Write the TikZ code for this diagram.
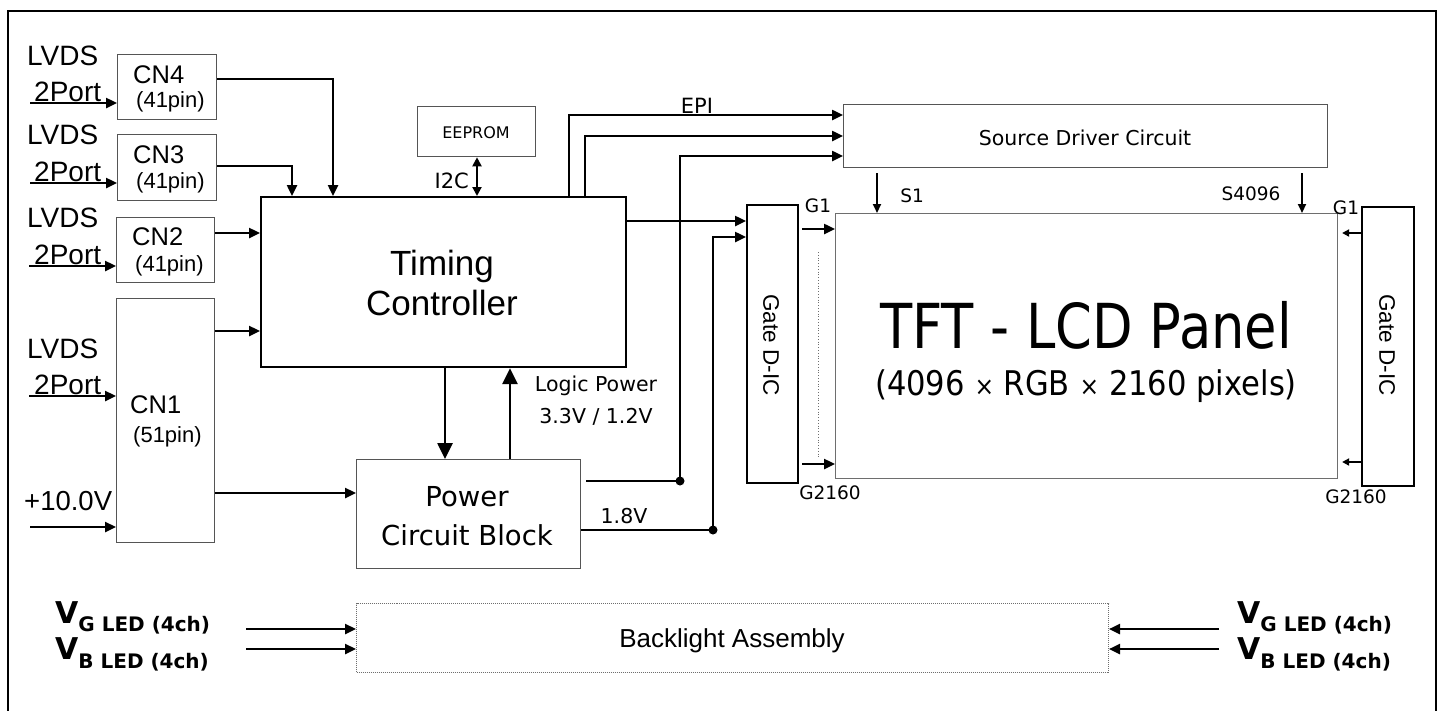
\documentclass[tikz,border=0pt]{standalone}
\usepackage{fontspec}
\setmainfont{Liberation Sans}
\newfontfamily\verd{DejaVu Sans}
\newfontfamily\verdc[FakeStretch=0.85]{DejaVu Sans}
\newfontfamily\verdd[FakeStretch=0.9]{DejaVu Sans}
\usetikzlibrary{arrows.meta,calc}
\newcommand\fsz[1]{\fontsize{#1}{#1}\selectfont}
\definecolor{bgray}{RGB}{85,85,85}
\definecolor{lgray}{RGB}{110,110,110}
\begin{document}
\begin{tikzpicture}[x=1pt,y=-1pt,
  box/.style={draw=bgray, line width=1.3pt, inner sep=0pt, anchor=north west},
  bbox/.style={draw=black, line width=2.2pt, inner sep=0pt, anchor=north west},
  txt/.style={inner sep=0pt},
  conn/.style={line width=2.4pt, -{Triangle[length=11pt,width=10pt]}},
  bigconn/.style={line width=2.6pt, -{Triangle[length=16pt,width=15pt]}},
  thinconn/.style={line width=2pt, -{Triangle[length=9pt,width=8pt]}},
  tinyconn/.style={line width=2pt, -{Triangle[length=7pt,width=7pt]}},
  pline/.style={line width=2pt},
  dot/.style={circle, fill=black, inner sep=0pt, minimum size=9pt},
  vlab/.style={inner sep=0pt, anchor=base west},
]
\useasboundingbox (0,0) rectangle (1443,710);
\draw[line width=2.5pt] (8,716) -- (8,11) -- (1436,11) -- (1436,716);

% boxes
\node[box, minimum width=99pt, minimum height=65pt] (cn4) at (117,54) {};
\node[box, minimum width=99pt, minimum height=66pt] (cn3) at (117,134) {};
\node[box, minimum width=98pt, minimum height=65pt] (cn2) at (116,217) {};
\node[box, minimum width=98pt, minimum height=244pt] (cn1) at (116,298) {};
\node[bbox, minimum width=365pt, minimum height=170pt] (tc) at (260,196) {};
\node[box, minimum width=118pt, minimum height=50pt] (ee) at (417,106) {};
\node[box, minimum width=484pt, minimum height=63pt] (sd) at (843,104) {};
\node[bbox, minimum width=51pt, minimum height=278pt] (gl) at (746,204) {};
\node[box, draw=lgray, line width=1.1pt, minimum width=502pt, minimum height=265pt] (tft) at (835,213) {};
\node[bbox, minimum width=52pt, minimum height=279pt] (gr) at (1361,206) {};
\node[box, minimum width=224pt, minimum height=109pt] (pcb) at (356,459) {};
\node[box, draw=lgray, line width=1pt, densely dotted, minimum width=752pt, minimum height=69pt] (bl) at (356,603) {};

% left inputs
\coordinate (in4) at (30,103);
\coordinate (in3) at (30,183);
\coordinate (in2) at (29,266);
\coordinate (in1) at (29,396);
\coordinate (in0) at (30,527);
\draw[conn] (in4) -- (in4 -| cn4.west);
\draw[conn] (in3) -- (in3 -| cn3.west);
\draw[conn] (in2) -- (in2 -| cn2.west);
\draw[conn] (in1) -- (in1 -| cn1.west);
\draw[conn] (in0) -- (in0 -| cn1.west);

% connectors to timing controller
\draw[conn] (cn4.east |- 0,79) -| (tc.north -| 333,0);
\draw[conn] (cn3.east |- 0,166) -| (tc.north -| 292,0);
\draw[conn] (cn2.east |- 0,233) -- (tc.west |- 0,233);
\draw[conn] (cn1.east |- 0,331) -- (tc.west |- 0,331);
\draw[conn] (cn1.east |- 0,493) -- (pcb.west |- 0,493);
\draw[bigconn] (tc.south -| 445,0) -- (pcb.north -| 445,0);
\draw[bigconn] (pcb.north -| 510,0) -- (tc.south -| 510,0);
\draw[line width=2pt, {Triangle[length=9pt,width=9pt]}-{Triangle[length=9pt,width=9pt]}] (ee.south -| 477,0) -- (tc.north -| 477,0);

% EPI
\draw[conn] (tc.north -| 569,0) |- (sd.west |- 0,115);
\draw[conn] (tc.north -| 585,0) |- (sd.west |- 0,136);
\draw[conn] (tc.east |- 0,221) -- (gl.west |- 0,221);

% power lines
\coordinate (j1) at (680,481);
\coordinate (j2) at (713,530);
\draw[pline] ($(pcb.east |- j1)+(5,0)$) -- (j1);
\draw[conn] (j1) |- (sd.west |- 0,156);
\draw[pline] (pcb.east |- j2) -- (j2);
\draw[conn] (j2) |- (gl.west |- 0,237);
\node[dot] (dj1) at (j1) {};
\node[dot] (dj2) at (j2) {};

% gate outputs
\draw[conn] ($(gl.east |- 0,229)+(3,0)$) -- (tft.west |- 0,229);
\draw[conn] ($(gl.east |- 0,464)+(3,0)$) -- (tft.west |- 0,464);
\draw[lgray, line width=0.8pt, dotted] (818,252) -- (818,458);
\draw[thinconn] ($(sd.south -| 877,0)+(0,5)$) -- (tft.north -| 877,0);
\draw[thinconn] ($(sd.south -| 1302,0)+(0,5)$) -- (tft.north -| 1302,0);
\draw[tinyconn] (gr.west |- 0,233) -- ($(tft.east |- 0,233)+(4,0)$);
\draw[tinyconn] (gr.west |- 0,462) -- ($(tft.east |- 0,462)+(4,0)$);

% backlight
\coordinate (bg1) at (246,629);
\coordinate (bb1) at (246,649);
\coordinate (bg2) at (1219,629);
\coordinate (bb2) at (1219,649);
\draw[conn] (bg1) -- (bg1 -| bl.west);
\draw[conn] (bb1) -- (bb1 -| bl.west);
\draw[conn] (bg2) -- (bg2 -| bl.east);
\draw[conn] (bb2) -- (bb2 -| bl.east);

% texts left
\foreach \n/\y/\b in {1/65/101,2/144/181,3/227/264,4/358/394}{
  \node[txt, anchor=base west, font=\fsz{28}] (lv\n) at (27,\y) {LVDS};
  \node[txt, anchor=base west, font=\fsz{28}] (pt\n) at (34,\b) {2Port};
}
\node[txt, anchor=base west, font=\fsz{27.5}] (v10) at (24,510) {+10.0V};

\node[txt, anchor=base west, font=\fsz{25.5}] (cn4a) at (133,83) {CN4};
\node[txt, anchor=base west, font=\fsz{22}] (cn4b) at (136,107) {(41pin)};
\node[txt, anchor=base west, font=\fsz{25.5}] (cn3a) at (133,163) {CN3};
\node[txt, anchor=base west, font=\fsz{22}] (cn3b) at (136,188) {(41pin)};
\node[txt, anchor=base west, font=\fsz{25.5}] (cn2a) at (132,245) {CN2};
\node[txt, anchor=base west, font=\fsz{22}] (cn2b) at (135,271) {(41pin)};
\node[txt, anchor=base west, font=\fsz{25.5}] (cn1a) at (130,413) {CN1};
\node[txt, anchor=base west, font=\fsz{22}] (cn1b) at (133,442) {(51pin)};

\node[txt, anchor=base, font=\fsz{35}] (tca) at (442,275) {Timing};
\node[txt, anchor=base, font=\fsz{35}] (tcb) at (442,315) {Controller};

\node[txt, font=\verd\fsz{16}] (eet) at (476,133) {EEPROM};
\node[txt, anchor=base east, font=\verd\fsz{21}] (i2c) at (469,188) {I2C};
\node[txt, anchor=base, font=\verd\fsz{21}] (epi) at (697,113) {EPI};
\node[txt, anchor=base, font=\verd\fsz{20.5}] (sdt) at (1085,145) {Source Driver Circuit};

\node[txt, anchor=base, font=\verd\fsz{20.5}] (lp1) at (596,391) {Logic Power};
\node[txt, anchor=base, font=\verd\fsz{20.5}] (lp2) at (596,423) {3.3V / 1.2V};
\node[txt, anchor=base, font=\verd\fsz{20.5}] (v18) at (624,523) {1.8V};
\node[txt, anchor=base, font=\verd\fsz{27.5}] (pw1) at (467,506) {Power};
\node[txt, anchor=base, font=\verd\fsz{27.5}] (pw2) at (467,545) {Circuit Block};

\node[txt, rotate=-90, font=\fsz{22.5}] (glt) at (771,345) {Gate D-IC};
\node[txt, rotate=-90, font=\fsz{22.5}] (grt) at (1387,345) {Gate D-IC};

\node[txt, anchor=base, font=\verd\fsz{18.5}] (g1l) at (818,212) {G1};
\node[txt, anchor=base, font=\verd\fsz{18.5}] (g2l) at (830,499) {G2160};
\node[txt, anchor=base, font=\verd\fsz{18.5}] (s1) at (912,202) {S1};
\node[txt, anchor=base, font=\verd\fsz{18.5}] (s4) at (1251,200) {S4096};
\node[txt, anchor=base, font=\verd\fsz{18.5}] (g1r) at (1346,214) {G1};
\node[txt, anchor=base, font=\verd\fsz{18.5}] (g2r) at (1356,503) {G2160};

\node[txt, anchor=base, font=\verdc\fsz{62}] (tft1) at (1086,348) {TFT - LCD Panel};
\node[txt, anchor=base, font=\verdd\fsz{34}] (tft2) at (1086,395) {(4096 {\fsz{26}×} RGB {\fsz{26}×} 2160 pixels)};

\node[txt, anchor=base, font=\fsz{26}] (blt) at (732,647) {Backlight Assembly};

\node[vlab] (vg1) at (55,623) {\verd\bfseries\fsz{30}V\raisebox{-8pt}{\fsz{20}G LED (4ch)}};
\node[vlab] (vb1) at (55,659) {\verd\bfseries\fsz{30}V\raisebox{-9pt}{\fsz{20}B LED (4ch)}};
\node[vlab] (vg2) at (1237,623) {\verd\bfseries\fsz{30}V\raisebox{-8pt}{\fsz{20}G LED (4ch)}};
\node[vlab] (vb2) at (1237,659) {\verd\bfseries\fsz{30}V\raisebox{-9pt}{\fsz{20}B LED (4ch)}};
\end{tikzpicture}
\end{document}
